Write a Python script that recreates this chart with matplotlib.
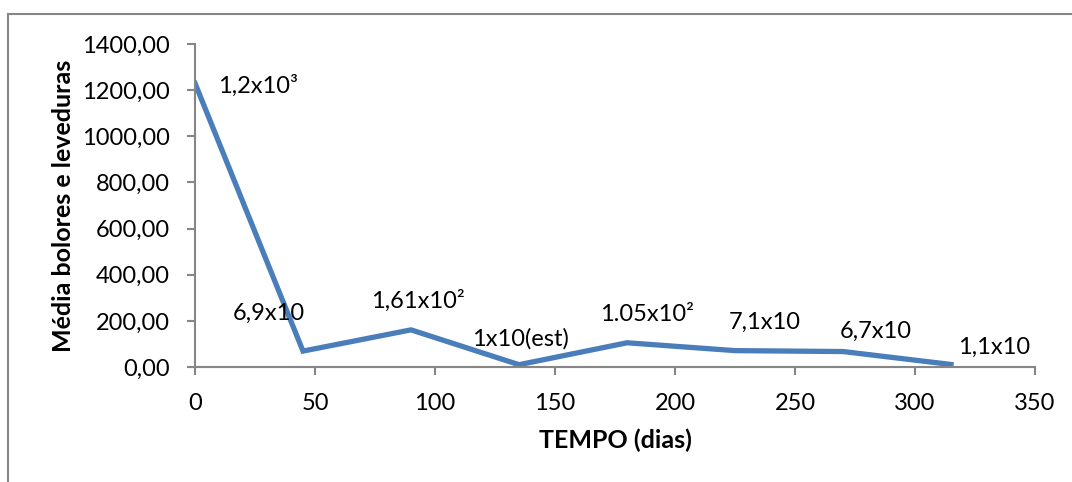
import matplotlib
matplotlib.use("Agg")
import matplotlib.pyplot as plt
from matplotlib.patches import Rectangle
from matplotlib.ticker import FuncFormatter

plt.rcParams['font.family'] = ['Lato', 'DejaVu Sans']

# mean mould & yeast counts over storage time
dias = [0, 45, 90, 135, 180, 225, 270, 315]
media = [1230, 69, 161, 10, 105, 71, 67, 11]
rotulos = ['1,2x10³', '6,9x10', '1,61x10²', '1x10(est)', '1.05x10²',
           '7,1x10', '6,7x10', '1,1x10']
# label offsets from each point (pixels)
desloc = [(23, -3), (-34, 38), (7, 29), (1, 26), (20, 28), (30, 28), (33, 20), (43, 17)]

cinza = '#868686'
azul = '#4A7EBB'

fig = plt.figure(figsize=(10.72, 4.82), dpi=100)
fig.patches.append(Rectangle((8 / 1072, -0.1), 1.2, 1 - 14 / 482 + 0.1,
                             transform=fig.transFigure, fill=False,
                             edgecolor=cinza, linewidth=1.5))
ax = fig.add_axes([195 / 1072, 1 - 367 / 482, 840 / 1072, 323 / 482])

ax.plot(dias, media, color=azul, linewidth=3.8, solid_joinstyle='miter')

for i, (x, y) in enumerate(zip(dias, media)):
    dx, dy = desloc[i]
    ha = 'left' if i == 0 else 'center'
    ax.annotate(rotulos[i], (x, y), xytext=(dx, dy), textcoords='offset pixels',
                ha=ha, va='center', fontsize=17, color='black')

ax.set_xlim(0, 350)
ax.set_ylim(0, 1400)
ax.set_xticks(range(0, 351, 50))
ax.set_yticks(range(0, 1401, 200))
ax.yaxis.set_major_formatter(FuncFormatter(lambda v, p: f'{v:.2f}'.replace('.', ',')))

for s in ['top', 'right']:
    ax.spines[s].set_visible(False)
for s in ['left', 'bottom']:
    ax.spines[s].set_color(cinza)
    ax.spines[s].set_linewidth(1.5)
ax.tick_params(axis='both', colors=cinza, labelcolor='black', labelsize=17,
               length=6, width=1.5, direction='out')
ax.tick_params(axis='y', pad=12)
ax.tick_params(axis='x', pad=13)

ax.set_xlabel('TEMPO (dias)', fontsize=18, fontweight='bold', labelpad=10)
ax.set_ylabel('Média bolores e leveduras', fontsize=18, fontweight='bold', labelpad=5)

fig.savefig('out.png', dpi=100)
